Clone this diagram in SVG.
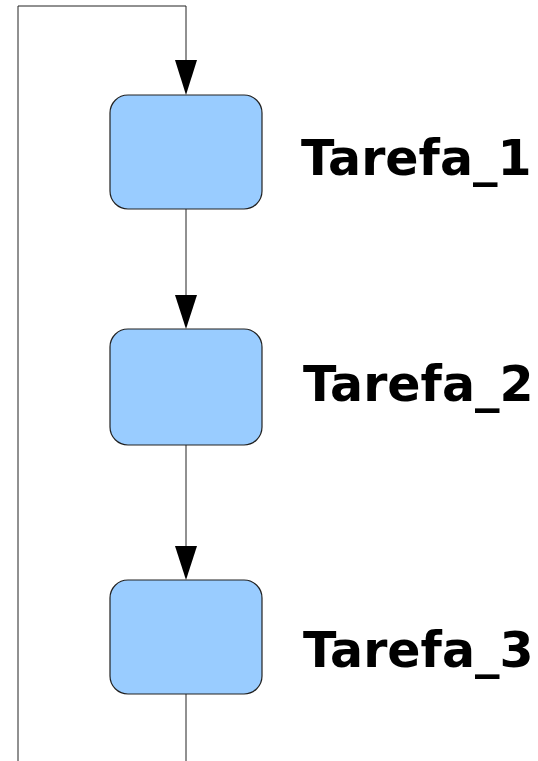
<svg xmlns="http://www.w3.org/2000/svg" width="538" height="761" viewBox="0 0 538 761">
<style>
.box{fill:#99ccff;stroke:#222222;stroke-width:1.2}
.ln{fill:none;stroke:#222222;stroke-width:1}
.lbl{font-family:"DejaVu Sans",sans-serif;font-weight:bold;font-size:49px;fill:#000}
.ah{fill:#000}
</style>
<rect width="538" height="761" fill="#fff"/>
<g id="connectors">
<path class="ln" d="M186,761 L186,694"/>
<path class="ln" d="M18,761 L18,6 L186,6 L186,62"/>
<polygon class="ah" points="175,60 197,60 186,95"/>
<path class="ln" d="M186,209 L186,296"/>
<polygon class="ah" points="175,295 197,295 186,329"/>
<path class="ln" d="M186,445 L186,547"/>
<polygon class="ah" points="175,546 197,546 186,580"/>
</g>
<g id="tarefa1">
<rect class="box" x="110" y="95" width="152" height="114" rx="18"/>
<text class="lbl" x="301" y="175">Tarefa_1</text>
</g>
<g id="tarefa2">
<rect class="box" x="110" y="329" width="152" height="116" rx="18"/>
<text class="lbl" x="303" y="401">Tarefa_2</text>
</g>
<g id="tarefa3">
<rect class="box" x="110" y="580" width="152" height="114" rx="18"/>
<text class="lbl" x="303" y="667">Tarefa_3</text>
</g>
</svg>
